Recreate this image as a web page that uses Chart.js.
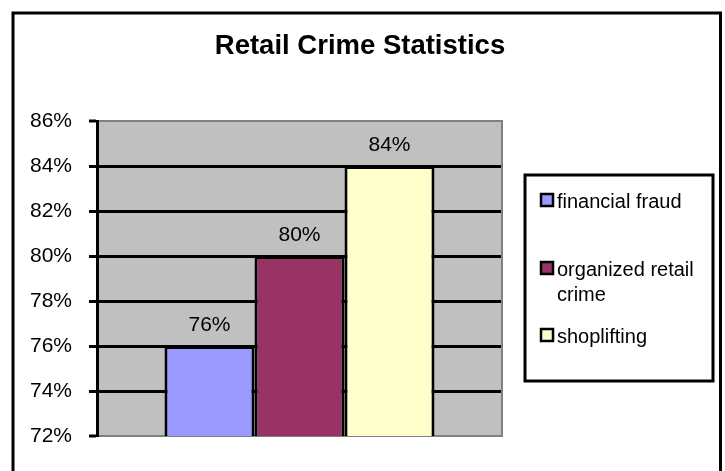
<!DOCTYPE html>
<html><head><meta charset="utf-8">
<script src="https://cdn.jsdelivr.net/npm/chart.js@4/dist/chart.umd.min.js"></script>
<style>html,body{margin:0;padding:0;background:#fff}#wrap{width:725px;height:471px;position:relative}</style>
</head><body><div id="wrap"><canvas id="c" width="725" height="471"></canvas></div>
<script>
const chartTitle = 'Retail Crime Statistics';
const categories = [''];
const seriesNames = ['financial fraud', 'organized retail crime', 'shoplifting'];
const seriesValues = [76, 80, 84];
const seriesColors = ['#9999FF', '#993366', '#FFFFCC'];
const yMin = 72, yMax = 86, yStep = 2;

const FONT = "'Liberation Sans', Arial, sans-serif";

const frameAndBg = {
  id: 'frameAndBg',
  beforeDraw(chart) {
    const {ctx, chartArea: a} = chart;
    ctx.save();
    ctx.fillStyle = '#C0C0C0';
    ctx.fillRect(a.left, a.top, a.right - a.left, a.bottom - a.top);
    ctx.strokeStyle = '#000';
    ctx.lineWidth = 3;
    ctx.beginPath();
    ctx.moveTo(13, 471); ctx.lineTo(13, 13); ctx.lineTo(720.5, 13); ctx.lineTo(720.5, 471);
    ctx.stroke();
    ctx.restore();
  },
  afterDatasetsDraw(chart) {
    const {ctx, chartArea: a} = chart;
    ctx.save();
    ctx.strokeStyle = '#808080';
    ctx.lineWidth = 2;
    ctx.beginPath();
    ctx.moveTo(a.right, a.top - 1); ctx.lineTo(a.right, a.bottom + 1);
    ctx.stroke();
    // data labels
    ctx.fillStyle = '#000';
    ctx.font = '21px ' + FONT;
    ctx.textAlign = 'center';
    ctx.textBaseline = 'alphabetic';
    chart.data.datasets.forEach((ds, i) => {
      const meta = chart.getDatasetMeta(i);
      meta.data.forEach((bar, j) => {
        ctx.fillText(ds.data[j] + '%', bar.x, bar.y - 15);
      });
    });
    ctx.restore();
  },
  afterDraw(chart) {
    const {ctx} = chart;
    ctx.save();
    // legend box
    const L = 525, T = 175, R = 713, B = 381;
    ctx.fillStyle = '#fff';
    ctx.fillRect(L, T, R - L, B - T);
    ctx.strokeStyle = '#000';
    ctx.lineWidth = 3;
    ctx.strokeRect(L, T, R - L, B - T);
    ctx.font = '20px ' + FONT;
    ctx.textAlign = 'left';
    ctx.textBaseline = 'alphabetic';
    const baselines = [208, 276, 343];
    const lineGap = 25;
    const maxW = 150;
    chart.data.datasets.forEach((ds, i) => {
      const words = ds.label.split(' ');
      const lines = [];
      let cur = '';
      words.forEach(w => {
        const t = cur ? cur + ' ' + w : w;
        if (ctx.measureText(t).width > maxW && cur) { lines.push(cur); cur = w; }
        else cur = t;
      });
      if (cur) lines.push(cur);
      const by = baselines[i];
      ctx.fillStyle = ds.backgroundColor;
      ctx.fillRect(541, by - 14, 12, 12);
      ctx.strokeStyle = '#000';
      ctx.lineWidth = 2.5;
      ctx.strokeRect(541, by - 14, 12, 12);
      ctx.fillStyle = '#000';
      lines.forEach((ln, k) => ctx.fillText(ln, 557, by + k * lineGap));
    });
    ctx.restore();
  }
};

const datasets = seriesNames.map((name, i) => ({
  label: name,
  data: [seriesValues[i]],
  backgroundColor: seriesColors[i],
  borderColor: '#000',
  borderWidth: 3,
  borderSkipped: false,
  categoryPercentage: 0.6667,
  barPercentage: 1.0
}));

new Chart(document.getElementById('c'), {
  type: 'bar',
  data: { labels: categories, datasets },
  options: {
    responsive: false,
    animation: false,
    layout: { padding: { left: 0, right: 5, top: 0, bottom: 35 } },
    plugins: {
      legend: { display: false },
      tooltip: { enabled: false },
      title: {
        display: true,
        text: chartTitle,
        color: '#000',
        font: { family: FONT, size: 27.5, weight: 'bold', lineHeight: 1.2 },
        padding: { top: 30, bottom: 58 }
      }
    },
    scales: {
      x: { display: false },
      y: {
        min: yMin, max: yMax,
        afterFit(s) { s.width = 97; },
        ticks: {
          stepSize: yStep,
          color: '#000',
          padding: 17,
          font: { family: FONT, size: 21 },
          callback: v => v + '%'
        },
        grid: {
          color: c => (c.tick && (c.tick.value === yMax || c.tick.value === yMin)) ? '#808080' : '#000',
          lineWidth: c => (c.tick && (c.tick.value === yMax || c.tick.value === yMin)) ? 2 : 3,
          tickColor: '#000',
          tickWidth: 3,
          tickLength: 8,
          drawTicks: true
        },
        border: { display: true, color: '#000', width: 3 }
      },
      yRight: {
        position: 'right',
        display: true,
        min: yMin, max: yMax,
        afterFit(s) { s.width = 218; },
        ticks: { display: false },
        grid: { display: false, drawTicks: false },
        border: { display: false }
      }
    }
  },
  plugins: [frameAndBg]
});
</script>
</body></html>
